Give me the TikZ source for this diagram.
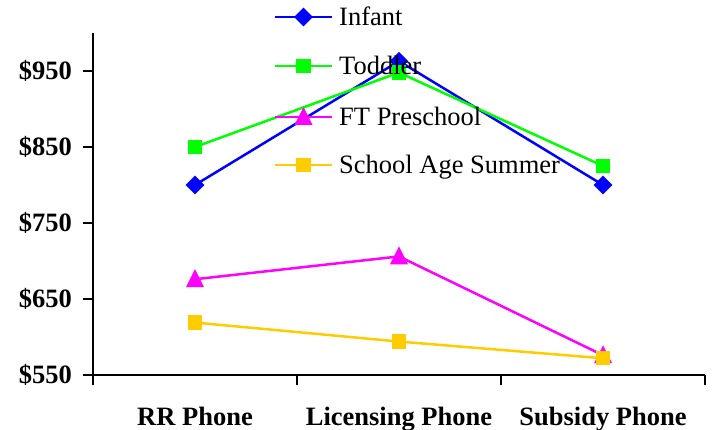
\documentclass[tikz,border=0pt]{standalone}
\usepackage{fontspec}
\setmainfont{Liberation Serif}
\usepackage{tikz}
\usetikzlibrary{calc}

\definecolor{infant}{RGB}{0,0,255}
\definecolor{toddler}{RGB}{0,255,0}
\definecolor{ftpre}{RGB}{255,0,255}
\definecolor{schage}{RGB}{255,204,0}

\tikzset{
    mkdiam/.pic={\fill (-9.3,0) -- (0,-9.3) -- (9.3,0) -- (0,9.3) -- cycle;},
    mksq/.pic={\fill (-7.2,-7.2) rectangle (7.2,7.2);},
    mktri/.pic={\fill (-9,8) -- (9,8) -- (0,-10) -- cycle;}
}

\begin{document}
\begin{tikzpicture}[
    x=1pt, y=-1pt,
    axisline/.style={line width=2pt, black},
    series/.style={line width=2.5pt},
    ticklab/.style={font=\fontsize{26.5}{30}\selectfont\bfseries, inner sep=0pt},
    legtext/.style={font=\fontsize{26.5}{30}\selectfont, inner sep=0pt, anchor=base west}
]
\useasboundingbox (0,0) rectangle (714,430);

% axes
\draw[axisline] (93,33) -- (93,385);
\draw[axisline] (93,375) -- (705,375);
\foreach \v/\t in {950/71, 850/147, 750/223, 650/299, 550/375} {
    \draw[axisline] (83,\t) -- (93,\t);
    \node[ticklab, anchor=east] (ylab\v) at (72,\t) {\$\v};
}
\foreach \xt in {297, 501, 705}
    \draw[axisline] (\xt,375) -- (\xt,385);

% category labels
\node[ticklab, anchor=base] (catrr) at (195,425) {RR Phone};
\node[ticklab, anchor=base] (catlic) at (399,425) {Licensing Phone};
\node[ticklab, anchor=base] (catsub) at (603,425) {Subsidy Phone};

% data series
\foreach \nm/\col/\mk/\a/\b/\c in {inf/infant/mkdiam/800/963/800,
        tod/toddler/mksq/850/948/825,
        fts/ftpre/mktri/676/706/576,
        sch/schage/mksq/619/594/572} {
    \coordinate (\nm1) at (195,{375-(\a-550)*0.76});
    \coordinate (\nm2) at (399,{375-(\b-550)*0.76});
    \coordinate (\nm3) at (603,{375-(\c-550)*0.76});
    \draw[series, \col] (\nm1) -- (\nm2) -- (\nm3);
    \foreach \i in {1,2,3}
        \pic[\col] at (\nm\i) {\mk};
}

% legend
\foreach \nm/\col/\mk/\yy/\txt in {inf/infant/mkdiam/17/Infant,
        tod/toddler/mksq/66/Toddler,
        fts/ftpre/mktri/117/FT Preschool,
        sch/schage/mksq/165/School Age Summer} {
    \coordinate (leg\nm a) at (275,\yy);
    \coordinate (leg\nm b) at (332,\yy);
    \draw[series, \col] (leg\nm a) -- (leg\nm b);
    \pic[\col] at ($(leg\nm a)!0.5!(leg\nm b)$) {\mk};
    \node[legtext] (leg\nm) at (339,\yy+9) {\txt};
}
\end{tikzpicture}
\end{document}
